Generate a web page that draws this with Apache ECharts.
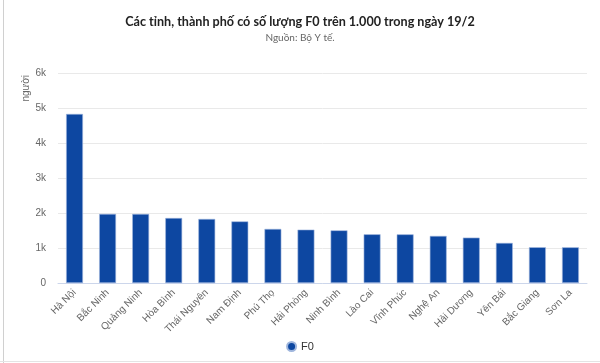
<!DOCTYPE html>
<html>
<head>
<meta charset="utf-8">
<script src="https://cdn.jsdelivr.net/npm/echarts@6/dist/echarts.min.js"></script>
<style>
html,body{margin:0;padding:0;background:#fff;}
#c{width:600px;height:363px;}
</style>
</head>
<body>
<div id="c"></div>
<script>
var categories = ["Hà Nội","Bắc Ninh","Quảng Ninh","Hòa Bình","Thái Nguyên","Nam Định","Phú Thọ","Hải Phòng","Ninh Bình","Lào Cai","Vĩnh Phúc","Nghệ An","Hải Dương","Yên Bái","Bắc Giang","Sơn La"];
var f0Values = [4830,1975,1972,1857,1830,1760,1545,1525,1505,1392,1390,1345,1296,1145,1022,1020];
var yTicks = [0,1000,2000,3000,4000,5000,6000];
var titleText = "Các tỉnh, thành phố có số lượng F0 trên 1.000 trong ngày 19/2";
var subtitleText = "Nguồn: Bộ Y tế.";
var yAxisTitle = "người";
var seriesName = "F0";

var chart = echarts.init(document.getElementById('c'), null, {renderer:'canvas'});
chart.setOption({
  animation:false,
  title:[{
    text:titleText,
    left:'center',
    top:10,
    textStyle:{fontFamily:'Lato',fontWeight:'bold',fontSize:12.6,color:'#222'}
  },{
    text:subtitleText,
    left:'center',
    top:28,
    textStyle:{fontFamily:'Lato',fontWeight:'normal',fontSize:10,color:'#666'}
  }],
  legend:{
    bottom:6,
    left:'center',
    icon:'circle',
    itemWidth:9,itemHeight:9,
    textStyle:{fontFamily:'Liberation Sans',fontSize:11,color:'#333'},
    data:[seriesName]
  },
  grid:{left:58,right:13,top:73,bottom:80},
  xAxis:{
    type:'category',
    data:categories,
    axisLine:{lineStyle:{color:'#ccd6eb'}},
    axisTick:{show:false},
    axisLabel:{rotate:45,interval:0,fontFamily:'Liberation Sans',fontSize:10,color:'#666',margin:8}
  },
  yAxis:{
    type:'value',
    min:yTicks[0],max:yTicks[yTicks.length-1],interval:1000,
    axisLine:{show:false},axisTick:{show:false},
    splitLine:{lineStyle:{color:'#e9e9e9'}},
    axisLabel:{fontFamily:'Liberation Sans',fontSize:10,color:'#666',margin:12,
      formatter:function(v){return v===0?'0':(v/1000)+'k';}}
  },
  series:[{
    name:seriesName,
    type:'bar',
    data:f0Values,
    barWidth:'51%',
    itemStyle:{color:'#0d47a1',borderColor:'#9fb6dd',borderWidth:0.6}
  }],
  graphic:[
    {type:'text',left:21,top:75,rotation:Math.PI/2,
     style:{text:yAxisTitle,fontFamily:'Liberation Sans',fontSize:10,fill:'#666'}},
    {type:'line',shape:{x1:3.5,y1:0,x2:3.5,y2:363},style:{stroke:'#d0d0d0',lineWidth:1}},
    {type:'line',shape:{x1:0,y1:361.5,x2:600,y2:361.5},style:{stroke:'#e4e4e4',lineWidth:1}}
  ]
});
</script>
</body>
</html>
